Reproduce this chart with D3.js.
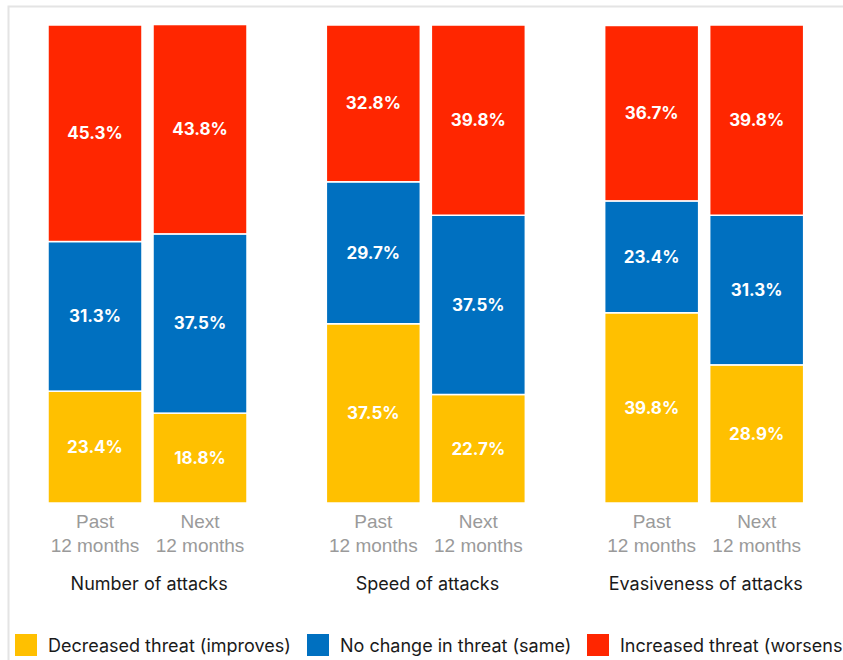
<!DOCTYPE html>
<html>
<head>
<meta charset="utf-8">
<script src="https://cdn.jsdelivr.net/npm/d3@7"></script>
<style>
  body { margin: 0; background: #fff; }
  svg { display: block; font-family: Inter, "Noto Sans", sans-serif; }
</style>
</head>
<body>
<div id="chart"></div>
<script>
// Threat perception by metric and time frame (%)
const groups = ["Number of attacks", "Speed of attacks", "Evasiveness of attacks"];
const periods = ["Past", "Next"];
const periodLabels = ["12 months", "12 months"];
const seriesNames = ["Decreased threat (improves)", "No change in threat (same)", "Increased threat (worsens)"];
const colors = ["#FFC000", "#0070C0", "#FF2600"];

// values per group: [Past, Next]
const decreased = [[23.4, 18.8], [37.5, 22.7], [39.8, 28.9]];
const noChange  = [[31.3, 37.5], [29.7, 37.5], [23.4, 31.3]];
const increased = [[45.3, 43.8], [32.8, 39.8], [36.7, 39.8]];

const width = 843, height = 660;

const svg = d3.select("#chart")
    .append("svg")
    .attr("width", width)
    .attr("height", height);

// light frame around the chart area
svg.append("rect")
    .attr("x", 8.5).attr("y", 6.5)
    .attr("width", width).attr("height", height)
    .attr("fill", "none")
    .attr("stroke", "#e4e4e4")
    .attr("stroke-width", 2);

// scales
const x0 = d3.scaleBand().domain(groups).range([10, 845]);
const x1 = d3.scaleBand().domain(periods).range([38, 237]).paddingInner(0.105);
const y = d3.scaleLinear().domain([0, 100]).range([503, 25]);

// build stacked rows
const rows = [];
groups.forEach((g, gi) => {
    periods.forEach((p, pi) => {
        rows.push({ group: g, period: p, v0: decreased[gi][pi], v1: noChange[gi][pi], v2: increased[gi][pi] });
    });
});
const stack = d3.stack().keys(["v0", "v1", "v2"])(rows);

const gGroups = svg.selectAll(".grp")
    .data(groups)
    .enter()
    .append("g")
    .attr("class", "grp")
    .attr("transform", d => `translate(${x0(d)},0)`);

stack.forEach((layer, li) => {
    layer.forEach((seg, ri) => {
        const row = rows[ri];
        const g = gGroups.filter(d => d === row.group);
        g.append("rect")
            .attr("x", x1(row.period))
            .attr("width", x1.bandwidth())
            .attr("y", y(seg[1]))
            .attr("height", y(seg[0]) - y(seg[1]))
            .attr("fill", colors[li])
            .attr("stroke", "#fff")
            .attr("stroke-width", 1.5);
        g.append("text")
            .attr("x", x1(row.period) + x1.bandwidth() / 2)
            .attr("y", (y(seg[0]) + y(seg[1])) / 2)
            .attr("dy", "0.35em")
            .attr("text-anchor", "middle")
            .attr("fill", "#fff")
            .attr("font-weight", "bold")
            .attr("font-size", 17)
            .text(d3.format(".1f")(seg[1] - seg[0]) + "%");
    });
});

// period axis under each group
gGroups.each(function() {
    const ax = d3.select(this).append("g")
        .attr("transform", "translate(0,503)")
        .call(d3.axisBottom(x1).tickSize(0).tickPadding(0));
    ax.select(".domain").remove();
    ax.selectAll("text").remove();
    ax.selectAll(".tick").each(function(d, i) {
        const t = d3.select(this).append("text")
            .attr("fill", "#9a9a9a")
            .attr("font-size", 19)
            .attr("text-anchor", "middle");
        t.append("tspan").attr("x", 0).attr("y", 25).text(d);
        t.append("tspan").attr("x", 0).attr("y", 49).text(periodLabels[i]);
    });
});

// group titles
gGroups.append("text")
    .attr("x", x0.bandwidth() / 2)
    .attr("y", 590)
    .attr("text-anchor", "middle")
    .attr("font-size", 18)
    .attr("fill", "#1a1a1a")
    .text(d => d);

// legend
const legendX = [15, 307, 587];
const legend = svg.selectAll(".legend")
    .data(seriesNames)
    .enter()
    .append("g")
    .attr("class", "legend")
    .attr("transform", (d, i) => `translate(${legendX[i]},634)`);

legend.append("rect")
    .attr("width", 22).attr("height", 22)
    .attr("fill", (d, i) => colors[i]);

legend.append("text")
    .attr("x", 33)
    .attr("y", 18)
    .attr("font-size", 18)
    .attr("fill", "#1a1a1a")
    .text(d => d);
</script>
</body>
</html>
